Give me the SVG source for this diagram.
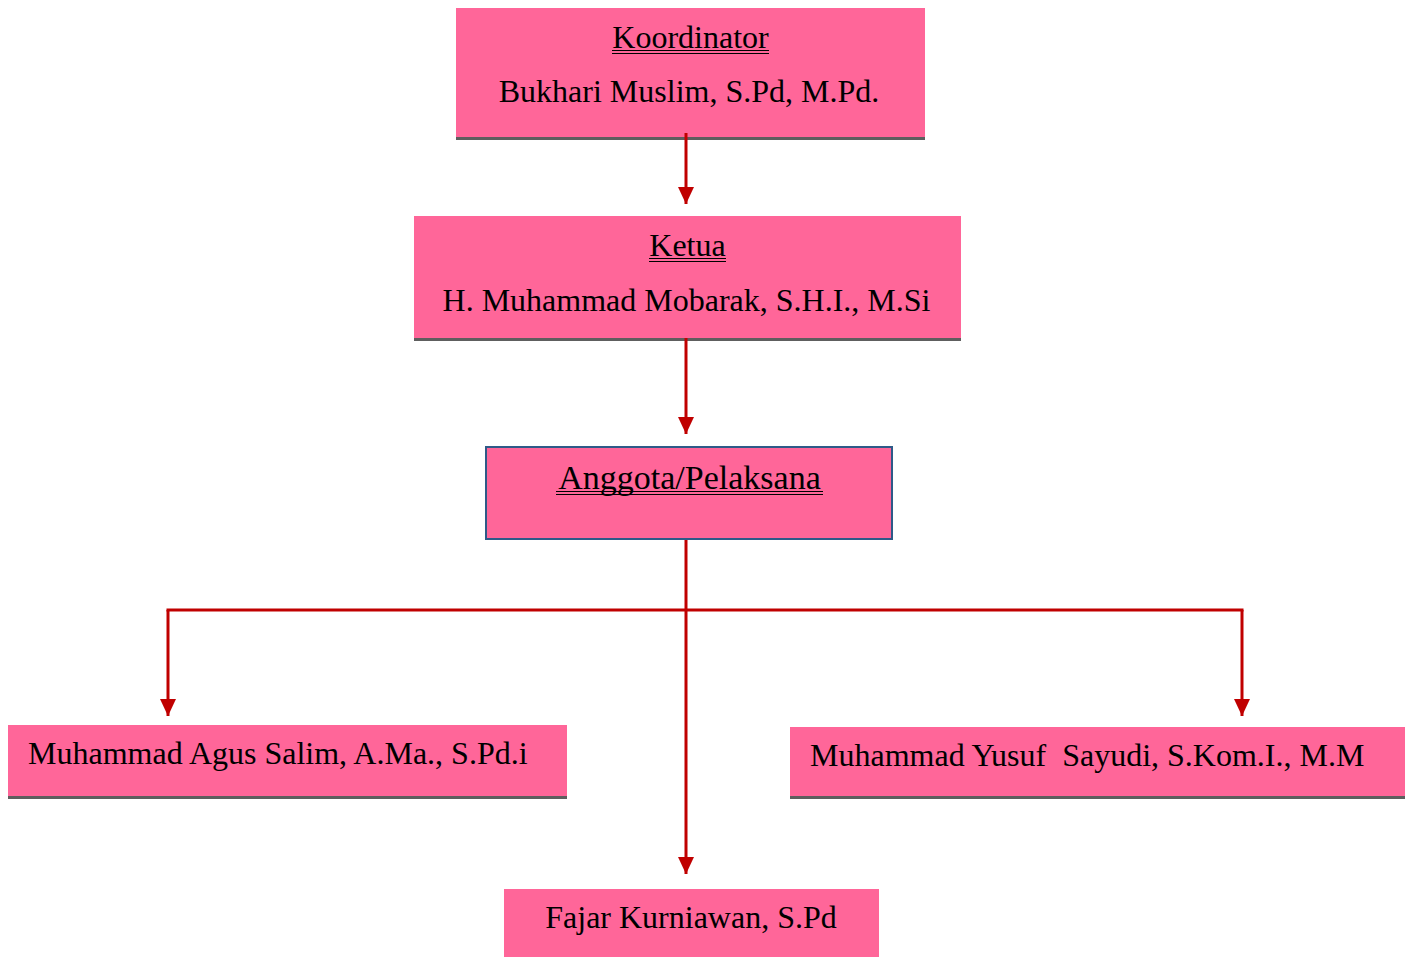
<svg xmlns="http://www.w3.org/2000/svg" width="1408" height="957" viewBox="0 0 1408 957">
<defs>
<style>
.box{fill:#FF6699;}
.shadow{fill:#5E5E5E;}
.t{font-family:"Liberation Serif","Times New Roman",serif;font-size:32px;fill:#000;}
.c{text-anchor:middle;}
.ul{stroke:#000;stroke-width:1;}
.conn{stroke:#C00000;stroke-width:3;fill:none;}
</style>
<marker id="arr" markerUnits="userSpaceOnUse" markerWidth="18" markerHeight="18" viewBox="0 0 18 18" refX="17" refY="9" orient="auto">
<path d="M0,1 L17,9 L0,17 Z" fill="#C00000"/>
</marker>
</defs>
<g id="koordinator">
<rect class="shadow" x="456" y="136" width="469" height="4"/>
<rect class="box" x="456" y="8" width="469" height="129"/>
<text class="t c" x="690.5" y="48">Koordinator</text>
<line class="ul" x1="612" y1="50.5" x2="769" y2="50.5"/>
<line class="ul" x1="612" y1="53.5" x2="769" y2="53.5"/>
<text class="t c" x="689" y="102">Bukhari Muslim, S.Pd, M.Pd.</text>
</g>
<g id="ketua">
<rect class="shadow" x="414" y="337" width="547" height="4"/>
<rect class="box" x="414" y="216" width="547" height="122"/>
<text class="t c" x="687.5" y="256">Ketua</text>
<line class="ul" x1="649" y1="258.5" x2="726" y2="258.5"/>
<line class="ul" x1="649" y1="261.5" x2="726" y2="261.5"/>
<text class="t c" x="686.5" y="311">H. Muhammad Mobarak, S.H.I., M.Si</text>
</g>
<g id="anggota">
<rect x="486" y="447" width="406" height="92" fill="#FF6699" stroke="#2E5A88" stroke-width="2"/>
<text class="t c" x="689.5" y="489" style="font-size:34px">Anggota/Pelaksana</text>
<line class="ul" x1="556" y1="491.5" x2="823" y2="491.5"/>
<line class="ul" x1="556" y1="494.5" x2="823" y2="494.5"/>
</g>
<g id="agus">
<rect class="shadow" x="8" y="795" width="559" height="4"/>
<rect class="box" x="8" y="725" width="559" height="71"/>
<text class="t" x="28" y="764">Muhammad Agus Salim, A.Ma., S.Pd.i</text>
</g>
<g id="yusuf">
<rect class="shadow" x="790" y="795" width="615" height="4"/>
<rect class="box" x="790" y="727" width="615" height="69"/>
<text class="t" x="810" y="766" xml:space="preserve">Muhammad Yusuf  Sayudi, S.Kom.I., M.M</text>
</g>
<g id="fajar">
<rect class="box" x="504" y="889" width="375" height="68"/>
<text class="t c" x="691" y="928">Fajar Kurniawan, S.Pd</text>
</g>
<g id="connectors">
<line class="conn" x1="686" y1="133" x2="686" y2="204" marker-end="url(#arr)"/>
<line class="conn" x1="686" y1="338" x2="686" y2="434" marker-end="url(#arr)"/>
<line class="conn" x1="686" y1="540" x2="686" y2="610"/>
<line class="conn" x1="166.5" y1="610" x2="1243.5" y2="610"/>
<line class="conn" x1="686" y1="610" x2="686" y2="874" marker-end="url(#arr)"/>
<line class="conn" x1="168" y1="610" x2="168" y2="716" marker-end="url(#arr)"/>
<line class="conn" x1="1242" y1="610" x2="1242" y2="716" marker-end="url(#arr)"/>
</g>
</svg>
